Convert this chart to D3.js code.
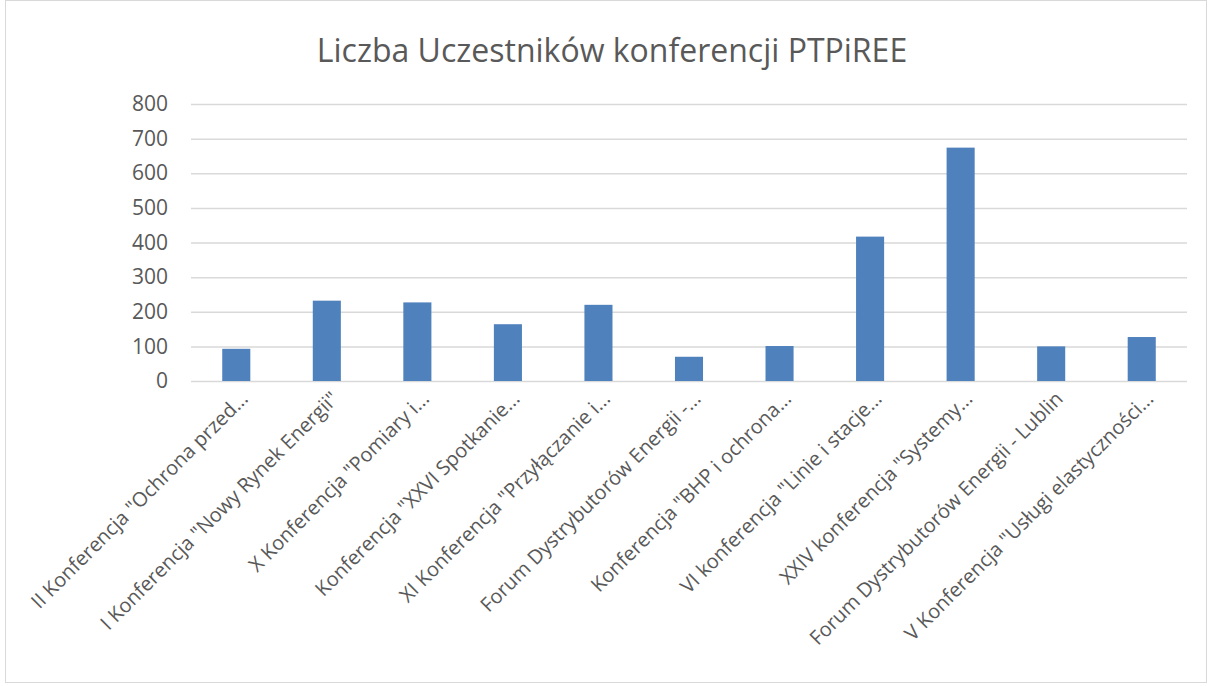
<!DOCTYPE html>
<html>
<head>
<meta charset="utf-8">
<title>Liczba Uczestników konferencji PTPiREE</title>
<style>
  body { margin: 0; background: #fff; }
  svg { display: block; }
  svg text { font-family: "Open Sans", "Noto Sans", sans-serif; }
  .grid line { stroke: #d9d9d9; stroke-width: 1.5; }
  .grid .domain { display: none; }
  .tick text { fill: #595959; }
</style>
</head>
<body>
<svg id="chart" width="1212" height="686"></svg>
<script src="https://d3js.org/d3.v7.min.js"></script>
<script>
const title = "Liczba Uczestników konferencji PTPiREE";
const categories = [
  'II Konferencja "Ochrona przed...',
  'I Konferencja "Nowy Rynek Energii"',
  'X Konferencja "Pomiary i...',
  'Konferencja "XXVI Spotkanie...',
  'XI Konferencja "Przyłączanie i...',
  'Forum Dystrybutorów Energii -...',
  'Konferencja "BHP i ochrona...',
  'VI konferencja "Linie i stacje...',
  'XXIV konferencja "Systemy...',
  'Forum Dystrybutorów Energii - Lublin',
  'V Konferencja "Usługi elastyczności...'
];
const values = [93, 232, 227, 164, 220, 70, 101, 417, 674, 100, 127];
const yTicks = [0, 100, 200, 300, 400, 500, 600, 700, 800];

const W = 1212, H = 686;
const plotLeft = 191, plotRight = 1187, plotTop = 104, plotBottom = 381;

const svg = d3.select("#chart");

// outer frame
svg.append("rect")
  .attr("x", 5.5).attr("y", 0.5)
  .attr("width", W - 11).attr("height", H - 4)
  .attr("fill", "#fff").attr("stroke", "#d9d9d9");

svg.append("text")
  .attr("x", 612).attr("y", 62)
  .attr("text-anchor", "middle")
  .attr("fill", "#595959")
  .style("font-size", "32px")
  .text(title);

const x = d3.scaleBand().domain(categories).range([plotLeft, plotRight]).paddingInner(0.69).paddingOuter(0.345);
const y = d3.scaleLinear().domain([0, 800]).range([plotBottom, plotTop]);

// gridlines + y labels
const yAxis = d3.axisLeft(y).tickValues(yTicks).tickSize(-(plotRight - plotLeft)).tickPadding(23);
svg.append("g").attr("class", "grid")
  .attr("transform", `translate(${plotLeft},0)`)
  .call(yAxis)
  .attr("font-family", null)
  .call(g => g.selectAll("text").style("font-size", "21px"));

svg.append("g").selectAll("rect")
  .data(values)
  .join("rect")
  .attr("x", (d, i) => x(categories[i]))
  .attr("y", d => y(d))
  .attr("width", x.bandwidth())
  .attr("height", d => y(0) - y(d))
  .attr("fill", "#4f81bd");

// x labels rotated
const xAxis = d3.axisBottom(x).tickSize(0).tickPadding(0);
svg.append("g")
  .attr("transform", `translate(0,${plotBottom})`)
  .call(xAxis)
  .attr("font-family", null)
  .call(g => g.select(".domain").remove())
  .call(g => g.selectAll("text")
    .style("font-size", "20px")
    .attr("text-anchor", "end")
    .attr("dy", null)
    .attr("y", 0)
    .attr("transform", "translate(13,19) rotate(-45)"));
</script>
</body>
</html>
